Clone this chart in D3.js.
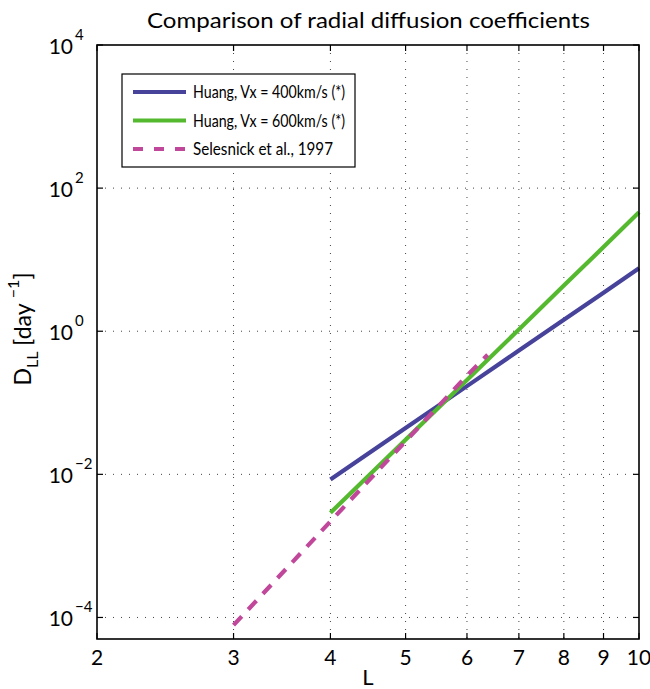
<!DOCTYPE html>
<html>
<head>
<meta charset="utf-8">
<script src="https://cdn.jsdelivr.net/npm/d3@7"></script>
<style>
  body { margin: 0; background: #fff; }
  svg { display: block; }
  text { font-family: Lato, "Open Sans", sans-serif; fill: #000; }
</style>
</head>
<body>
<svg id="chart" width="650" height="689"></svg>
<script>
// ---- data ----
const xTicks = [2, 3, 4, 5, 6, 7, 8, 9, 10];
const yTickExps = [-4, -2, 0, 2, 4];

const L_huang = [4, 5, 6, 7, 8, 9, 10];
const D_huang400 = [0.0085, 0.0445, 0.171, 0.537, 1.45, 3.46, 7.6];
const D_huang600 = [0.0029, 0.0305, 0.208, 1.06, 4.35, 15.0, 46];

const L_selesnick = [3, 4, 5, 6, 6.38];
const D_selesnick = [7.8e-5, 0.0022, 0.029, 0.24, 0.47];

const seriesNames = ["Huang, Vx = 400km/s (*)", "Huang, Vx = 600km/s (*)", "Selesnick et al., 1997"];
const titleText = "Comparison of radial diffusion coefficients";

// ---- layout ----
const pL = 97, pR = 639, pT = 45, pB = 639;
const svg = d3.select("#chart");

const x = d3.scaleLog().domain([2, 10]).range([pL, pR]);
const y = d3.scaleLog().domain([5e-5, 1e4]).range([pB, pT]);

// grid
const grid = svg.append("g").attr("stroke", "#444").attr("stroke-width", 1)
  .attr("stroke-dasharray", "1,7");
xTicks.filter(t => t > 2 && t < 10).forEach(t => {
  grid.append("line").attr("x1", x(t)).attr("x2", x(t)).attr("y1", pT).attr("y2", pB);
});
yTickExps.filter(e => e < 4).forEach(e => {
  grid.append("line").attr("x1", pL).attr("x2", pR).attr("y1", y(Math.pow(10, e))).attr("y2", y(Math.pow(10, e)));
});

// series
const colors = ["#47439a", "#55b92f", "#c0479a"];
const line = d3.line().x(d => x(d[0])).y(d => y(d[1]));
const seriesData = [
  d3.zip(L_huang, D_huang400),
  d3.zip(L_huang, D_huang600),
  d3.zip(L_selesnick, D_selesnick)
];
const dashes = [null, null, "12,9.5"];
seriesData.forEach((s, i) => {
  svg.append("path").datum(s).attr("d", line)
    .attr("fill", "none").attr("stroke", colors[i]).attr("stroke-width", 4.2)
    .attr("stroke-dasharray", dashes[i]);
});

// axes box & ticks
const ax = svg.append("g");
const tl = 6;
xTicks.forEach(t => {
  ax.append("line").attr("x1", x(t)).attr("x2", x(t)).attr("y1", pB).attr("y2", pB - tl).attr("stroke", "#000").attr("stroke-width", 1.2);
  ax.append("line").attr("x1", x(t)).attr("x2", x(t)).attr("y1", pT).attr("y2", pT + tl).attr("stroke", "#000").attr("stroke-width", 1.2);
  ax.append("text").attr("x", x(t)).attr("y", pB + 26).attr("text-anchor", "middle")
    .attr("font-size", 21).text(t);
});
yTickExps.forEach(e => {
  const yy = y(Math.pow(10, e));
  ax.append("line").attr("x1", pL).attr("x2", pL + tl).attr("y1", yy).attr("y2", yy).attr("stroke", "#000").attr("stroke-width", 1.2);
  ax.append("line").attr("x1", pR).attr("x2", pR - tl).attr("y1", yy).attr("y2", yy).attr("stroke", "#000").attr("stroke-width", 1.2);
  ax.append("text").attr("x", 73).attr("y", yy + 8.5).attr("text-anchor", "end")
    .attr("font-size", 21).text("10");
  ax.append("text").attr("x", 75).attr("y", yy - 5).attr("text-anchor", "start")
    .attr("font-size", 15).text(e < 0 ? "\u2212" + Math.abs(e) : String(e));
});
ax.append("rect").attr("x", pL).attr("y", pT).attr("width", pR - pL).attr("height", pB - pT)
  .attr("fill", "none").attr("stroke", "#000").attr("stroke-width", 1.6);

// title & labels
svg.append("text").attr("x", 147).attr("y", 28)
  .attr("font-size", 22).attr("textLength", 443).attr("lengthAdjust", "spacingAndGlyphs")
  .text(titleText);
svg.append("text").attr("x", 368).attr("y", 685).attr("text-anchor", "middle")
  .attr("font-size", 22).text("L");

const yl = svg.append("text").attr("transform", "translate(31,329) rotate(-90)")
  .attr("text-anchor", "middle").attr("font-size", 23);
yl.append("tspan").text("D");
yl.append("tspan").attr("font-size", 16).attr("dy", 7).text("LL");
yl.append("tspan").attr("dy", -7).text(" [day ");
yl.append("tspan").attr("font-size", 16).attr("dy", -12).text("\u22121");
yl.append("tspan").attr("dy", 12).text("]");

// legend
const lg = svg.append("g");
lg.append("rect").attr("x", 122).attr("y", 74).attr("width", 233).attr("height", 93)
  .attr("fill", "#fff").attr("stroke", "#000").attr("stroke-width", 1.2);
const rowsY = [92, 120.5, 149];
const legendTextLen = [152, 152, 140];
seriesNames.forEach((n, i) => {
  lg.append("line").attr("x1", 133).attr("x2", 186).attr("y1", rowsY[i]).attr("y2", rowsY[i])
    .attr("stroke", colors[i]).attr("stroke-width", 4.2).attr("stroke-dasharray", i === 2 ? "10,11" : null);
  lg.append("text").attr("x", 193).attr("y", rowsY[i] + 6).attr("font-size", 16.5)
    .attr("textLength", legendTextLen[i]).attr("lengthAdjust", "spacingAndGlyphs").text(n);
});
</script>
</body>
</html>
